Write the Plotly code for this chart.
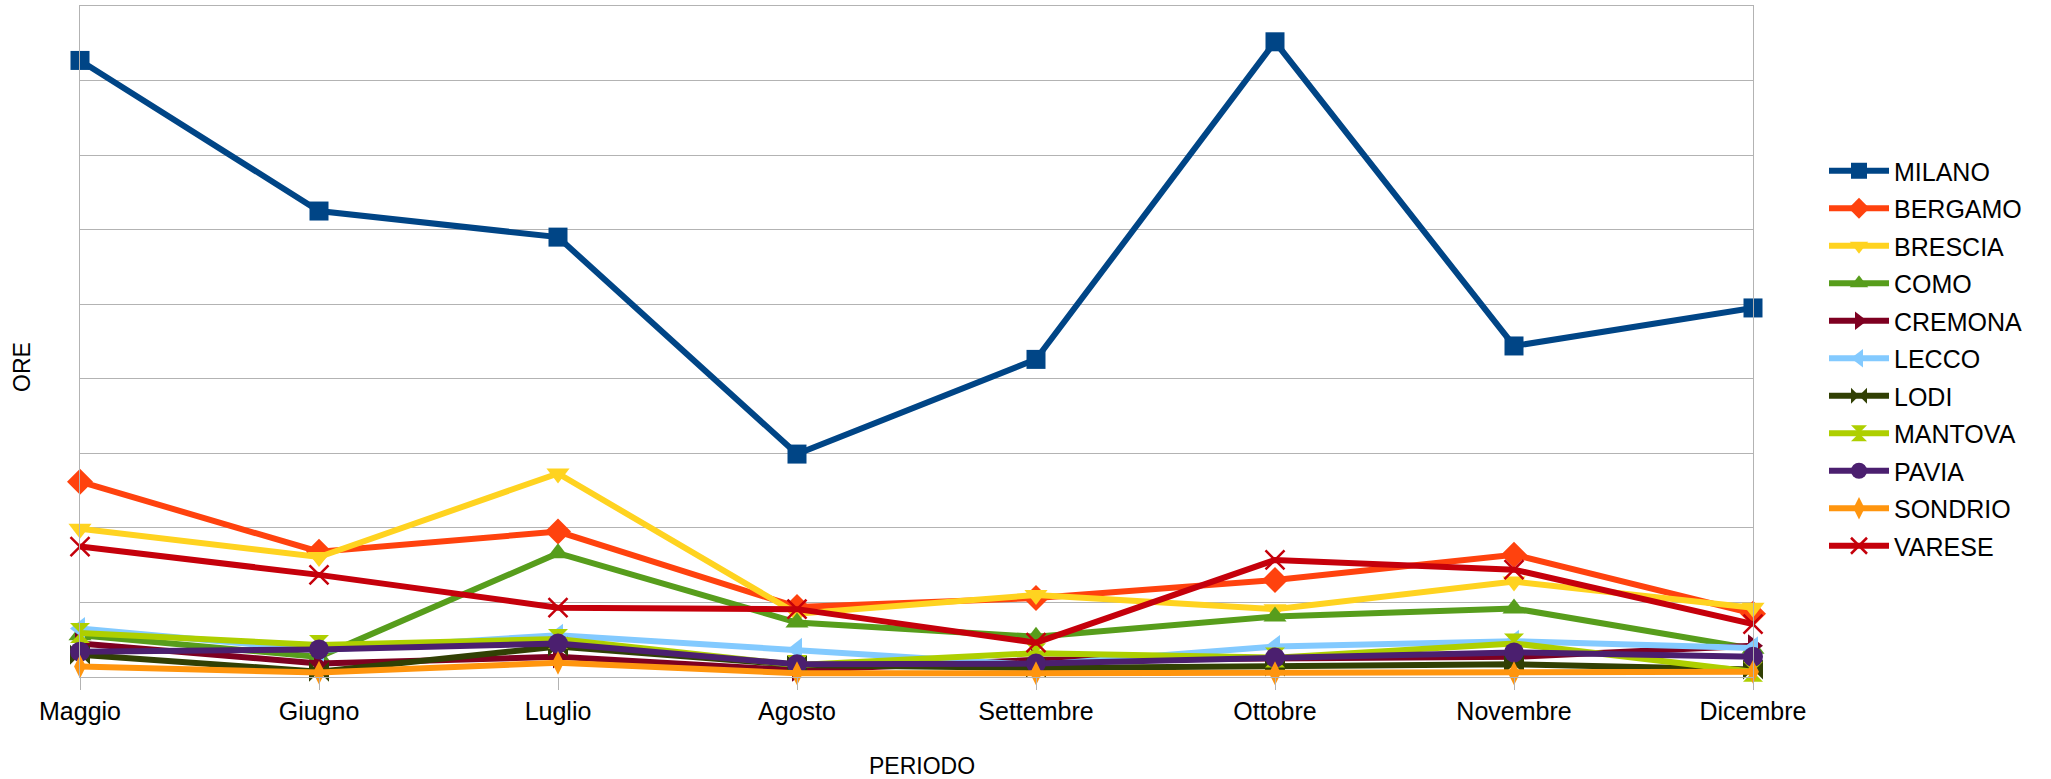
import plotly.graph_objects as go

periodi = ["Maggio", "Giugno", "Luglio", "Agosto", "Settembre", "Ottobre", "Novembre", "Dicembre"]

milano   = [827, 625, 590, 299, 426, 852, 444, 495]
bergamo  = [262, 168, 195, 94, 106, 130, 164, 85]
brescia  = [199, 161, 273, 85, 110, 91, 128, 93]
como     = [56, 27, 166, 73, 54, 81, 92, 38]
cremona  = [45, 18, 27, 9, 23, 25, 27, 42]
lecco    = [65, 36, 56, 37, 16, 41, 48, 39]
lodi     = [30, 7, 41, 16, 12, 14, 17, 10]
mantova  = [59, 43, 51, 16, 32, 26, 45, 7]
pavia    = [34, 37, 45, 17, 18, 26, 33, 27]
sondrio  = [14, 6, 19, 5, 5, 5, 5, 7]
varese   = [175, 137, 93, 91, 46, 157, 144, 71]

series = [
    ("MILANO", milano, "#004586", "square", 19),
    ("BERGAMO", bergamo, "#ff420e", "diamond", 20),
    ("BRESCIA", brescia, "#ffd320", "triangle-down", 20),
    ("COMO", como, "#579d1c", "triangle-up", 20),
    ("CREMONA", cremona, "#7e0021", "triangle-right", 20),
    ("LECCO", lecco, "#83caff", "triangle-left", 20),
    ("LODI", lodi, "#314004", "bowtie", 20),
    ("MANTOVA", mantova, "#aecf00", "hourglass", 20),
    ("PAVIA", pavia, "#4b1f6f", "circle", 20),
    ("SONDRIO", sondrio, "#ff950e", "diamond-tall", 17),
    ("VARESE", varese, "#c5000b", "x-thin", 19),
]

fig = go.Figure()
for i, (name, vals, col, sym, size) in enumerate(series):
    marker = dict(symbol=sym, size=size, color=col)
    if sym == "x-thin":
        marker["line"] = dict(width=2.5, color=col)
    elif sym == "diamond-tall":
        marker["line"] = dict(width=0)
    fig.add_trace(go.Scatter(
        x=periodi, y=vals, name=name, mode="lines+markers",
        line=dict(color=col, width=6), marker=marker,
        cliponaxis=False, legendgroup="g%d" % i,
    ))

W, H = 2051, 779
L, R, T, B = 80, 298, 6, 102
pw, ph = W - L - R, H - T - B

fig.update_layout(
    width=W, height=H,
    margin=dict(l=L, r=R, t=T, b=B),
    paper_bgcolor="white", plot_bgcolor="white",
    font=dict(family="Liberation Sans, Arial, sans-serif", size=25, color="#000000"),
    showlegend=True,
    legend=dict(
        x=(1824 - L) / pw, xanchor="left",
        y=(677 - 148) / ph, yanchor="top",
        font=dict(size=25),
        itemwidth=60,
        tracegroupgap=2,
        bgcolor="rgba(0,0,0,0)",
    ),
    xaxis=dict(
        type="category", range=[0, 7],
        showgrid=False, showline=True, linecolor="#b3b3b3", linewidth=1,
        mirror=True, ticks="outside", ticklen=12, tickcolor="#b3b3b3",
        tickfont=dict(size=25), zeroline=False,
    ),
    yaxis=dict(
        range=[0, 900], dtick=100, showgrid=True, gridcolor="#b3b3b3",
        gridwidth=1, showline=True, linecolor="#b3b3b3", mirror=True,
        showticklabels=False, ticks="", zeroline=False,
    ),
    annotations=[
        dict(text="ORE", xref="paper", yref="paper",
             x=(22 - L) / pw, y=(677 - 367) / ph, xanchor="center", yanchor="middle",
             textangle=-90, showarrow=False, font=dict(size=23)),
        dict(text="PERIODO", xref="paper", yref="paper",
             x=(922 - L) / pw, y=(677 - 766) / ph, xanchor="center", yanchor="middle",
             showarrow=False, font=dict(size=23)),
    ],
)

fig.write_html("out.html", config={"displayModeBar": False},
               post_script="document.body.style.margin='0';document.body.style.padding='0';")
